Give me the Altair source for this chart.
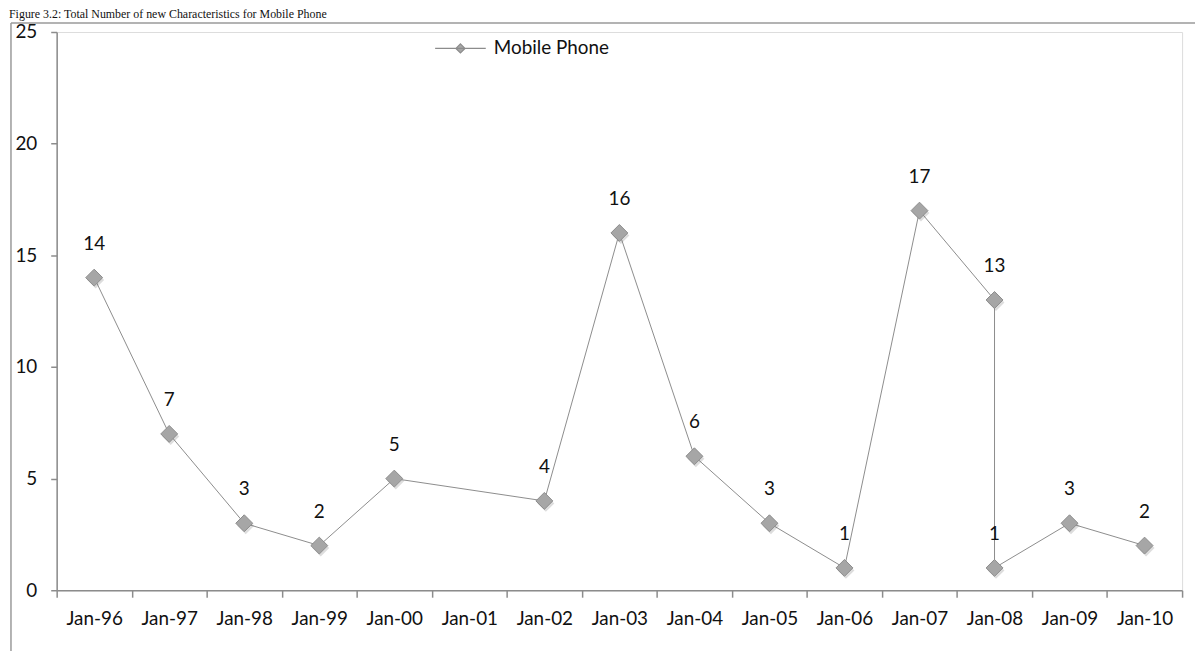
import altair as alt
import pandas as pd

# ---- data ----
axis_labels = ["Jan-96", "Jan-97", "Jan-98", "Jan-99", "Jan-00", "Jan-01", "Jan-02",
               "Jan-03", "Jan-04", "Jan-05", "Jan-06", "Jan-07", "Jan-08", "Jan-09", "Jan-10"]
point_dates = ["Jan-96", "Jan-97", "Jan-98", "Jan-99", "Jan-00", "Jan-02", "Jan-03",
               "Jan-04", "Jan-05", "Jan-06", "Jan-07", "Jan-08", "Jan-08", "Jan-09", "Jan-10"]
counts = [14, 7, 3, 2, 5, 4, 16, 6, 3, 1, 17, 13, 1, 3, 2]
series_name = "Mobile Phone"
y_ticks = [0, 5, 10, 15, 20, 25]
fig_title = "Figure 3.2: Total Number of new Characteristics for Mobile Phone"

df = pd.DataFrame({
    "date": point_dates,
    "count": counts,
    "idx": list(range(len(counts))),
    "series": [series_name] * len(counts),
})

W, H = 1133, 562
PAD = {"left": 49, "top": 22, "right": 13, "bottom": 59}
FONT = "Lato"
LINE = "#8c8c8c"
FILL = "#a6a6a6"
FRAME = "#9a9a9a"

x_enc = alt.X(
    "date:O",
    sort=axis_labels,
    scale=alt.Scale(type="band", domain=axis_labels, paddingInner=0, paddingOuter=0),
    axis=alt.Axis(
        title=None, labelAngle=0, tickBand="extent", grid=False,
        domainColor=LINE, domainWidth=1.5, tickColor=LINE, tickWidth=1.5, tickSize=7,
        labelFont=FONT, labelFontSize=19, labelColor="#111111", labelPadding=12,
    ),
)
y_enc = alt.Y(
    "count:Q",
    scale=alt.Scale(domain=[0, 25], nice=False, zero=True),
    axis=alt.Axis(
        title=None, values=y_ticks, grid=False,
        domainColor=LINE, domainWidth=1.5, tickColor=LINE, tickWidth=1.5, tickSize=6,
        labelFont=FONT, labelFontSize=19, labelColor="#111111", labelPadding=14,
    ),
)

base = alt.Chart(df)

line = base.mark_line(strokeWidth=1).encode(
    x=x_enc, y=y_enc,
    order=alt.Order("idx:Q"),
    color=alt.Color(
        "series:N",
        scale=alt.Scale(range=[LINE]),
        legend=alt.Legend(
            title=None, orient="none", legendX=380, legendY=-10, padding=0,
            symbolType="M-1,0L1,0M0,-0.18L0.18,0L0,0.18L-0.18,0Z",
            symbolSize=2600, symbolStrokeWidth=1.2, symbolFillColor=FILL,
            symbolStrokeColor=LINE,
            labelFont=FONT, labelFontSize=19, labelColor="#111111", labelOffset=7,
        ),
    ),
)

shadow = base.mark_point(
    shape="diamond", filled=True, size=290, color="#666666", opacity=0.22,
    xOffset=1.5, yOffset=2.5,
).encode(x=x_enc, y=y_enc)

points = base.mark_point(
    shape="diamond", filled=True, size=290, fill=FILL, stroke=LINE, strokeWidth=1,
    opacity=1,
).encode(x=x_enc, y=y_enc)

labels = base.mark_text(
    font=FONT, fontSize=19, color="#111111", dy=-34, baseline="middle", align="center",
).encode(x=x_enc, y=y_enc, text=alt.Text("count:Q"))

# decorative outer frame and caption at top
one = pd.DataFrame({"t": [fig_title]})
frame_left = alt.Chart(one).mark_rule(color=FRAME, strokeWidth=1.5).encode(
    x=alt.value(-46), y=alt.value(-9), y2=alt.value(H + PAD["bottom"] + 5)
)
frame_top = alt.Chart(one).mark_rule(color=FRAME, strokeWidth=1.5).encode(
    x=alt.value(-46), x2=alt.value(W + PAD["right"] + 5), y=alt.value(-9)
)
caption = alt.Chart(one).mark_text(
    font="Liberation Serif", fontSize=12, color="#111111", align="left", baseline="alphabetic",
).encode(x=alt.value(-48), y=alt.value(-14), text="t:N")

chart = alt.layer(frame_left, frame_top, caption, line, shadow, points, labels).properties(
    width=W, height=H,
    padding=PAD,
    autosize=alt.AutoSizeParams(type="none"),
).configure_view(stroke=None).configure(background="white")

chart.save("out.html", embed_options={"renderer": "svg", "actions": False})
